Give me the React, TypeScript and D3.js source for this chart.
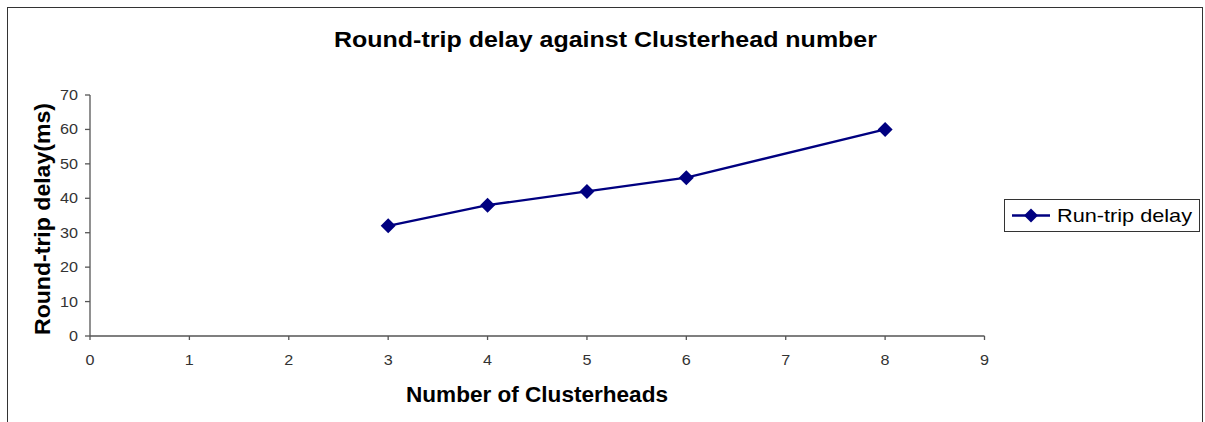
import React from "react";
import * as d3 from "d3";

const xValues = [3, 4, 5, 6, 8];
const delays = [32, 38, 42, 46, 60];
const xTicks = [0, 1, 2, 3, 4, 5, 6, 7, 8, 9];
const yTicks = [0, 10, 20, 30, 40, 50, 60, 70];
const seriesName = "Run-trip delay";
const title = "Round-trip delay against Clusterhead number";
const xTitle = "Number of Clusterheads";
const yTitle = "Round-trip delay(ms)";

const W = 1205;
const H = 422;
const NAVY = "#000080";
const AXIS = "#555";
const FONT = "Arial, 'Liberation Sans', sans-serif";

export default function App() {
  const x = d3.scaleLinear().domain([0, 9]).range([90, 984.5]);
  const y = d3.scaleLinear().domain([0, 70]).range([336, 95]);
  const pts = xValues.map((v, i) => [x(v), y(delays[i])] as [number, number]);
  const line = d3.line()(pts) || "";
  const diamond = (cx: number, cy: number, r: number) =>
    `M${cx},${cy - r}L${cx + r},${cy}L${cx},${cy + r}L${cx - r},${cy}Z`;

  return (
    <svg
      width={W}
      height={H}
      style={{ position: "absolute", left: 0, top: 0, background: "#fff" }}
      fontFamily={FONT}
    >
      <rect x={0} y={0} width={W} height={H} fill="#fff" />
      <rect x={7.5} y={7.5} width={1195} height={430} fill="none" stroke="#333" strokeWidth={1} />
      <text x={605.5} y={47} textAnchor="middle" fontSize={22} fontWeight="bold" fill="#000"
        textLength={543} lengthAdjust="spacingAndGlyphs">
        {title}
      </text>
      {/* y axis */}
      <line x1={90} x2={90} y1={y(70)} y2={y(0)} stroke={AXIS} strokeWidth={1.3} />
      {yTicks.map((t) => (
        <g key={"y" + t}>
          <line x1={85} x2={90} y1={y(t)} y2={y(t)} stroke={AXIS} strokeWidth={1.3} />
          <text x={78} y={y(t) + 5} textAnchor="end" fontSize={14} fill="#333"
            textLength={String(t).length * 9} lengthAdjust="spacingAndGlyphs">
            {t}
          </text>
        </g>
      ))}
      {/* x axis */}
      <line x1={x(0)} x2={x(9)} y1={y(0)} y2={y(0)} stroke={AXIS} strokeWidth={1.3} />
      {xTicks.map((t) => (
        <g key={"x" + t}>
          <line x1={x(t)} x2={x(t)} y1={y(0)} y2={y(0) + 4} stroke={AXIS} strokeWidth={1.3} />
          <text x={x(t)} y={y(0) + 29} textAnchor="middle" fontSize={14} fill="#333"
            textLength={9} lengthAdjust="spacingAndGlyphs">
            {t}
          </text>
        </g>
      ))}
      <text x={537} y={402} textAnchor="middle" fontSize={22.5} fontWeight="bold" fill="#000"
        textLength={262} lengthAdjust="spacingAndGlyphs">
        {xTitle}
      </text>
      <text
        transform={`translate(50,219) rotate(-90)`}
        textAnchor="middle"
        fontSize={22.5}
        fontWeight="bold"
        fill="#000"
        textLength={232}
        lengthAdjust="spacingAndGlyphs"
      >
        {yTitle}
      </text>
      <path d={line} fill="none" stroke={NAVY} strokeWidth={2.4} />
      {pts.map(([cx, cy], i) => (
        <path key={i} d={diamond(cx, cy, 7.5)} fill={NAVY} />
      ))}
      {/* legend */}
      <rect x={1004.5} y={199.5} width={195} height={32} fill="#fff" stroke="#333" strokeWidth={1} />
      <line x1={1012} x2={1050} y1={215.5} y2={215.5} stroke={NAVY} strokeWidth={2.4} />
      <path d={diamond(1031, 215.5, 7)} fill={NAVY} />
      <text x={1057} y={221.5} fontSize={19} fill="#000" textLength={135} lengthAdjust="spacingAndGlyphs">
        {seriesName}
      </text>
    </svg>
  );
}
